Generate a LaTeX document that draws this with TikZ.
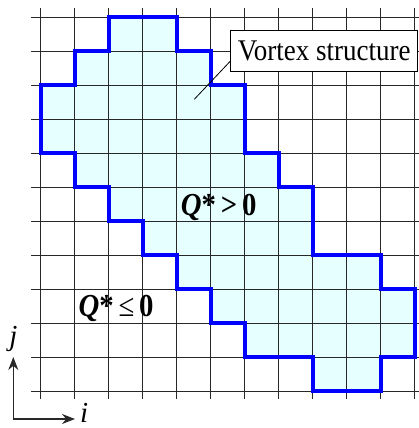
\documentclass[tikz,border=0pt]{standalone}
\usepackage{fontspec}
\setmainfont{Liberation Serif}
\usepackage{graphicx}
\usetikzlibrary{arrows.meta}
\definecolor{vfill}{RGB}{230,255,255}
\definecolor{vblue}{RGB}{0,0,255}
\definecolor{gridc}{RGB}{40,40,40}
\definecolor{axisc}{RGB}{40,40,40}
\tikzset{
  gridline/.style={draw=gridc, line width=1pt},
  boundary/.style={draw=vblue, line width=4pt, line join=miter},
  labelbox/.style={draw=black, fill=white, line width=0.8pt, minimum width=187pt, minimum height=41.7pt, inner sep=0pt, font=\fontsize{30}{34}\selectfont},
  leader/.style={draw=black, line width=0.8pt},
  qlabel/.style={inner sep=0pt, font=\fontsize{32}{35}\selectfont},
  axislabel/.style={inner sep=0pt, font=\fontsize{29}{32}\selectfont\itshape},
  axisarrow/.style={draw=axisc, line width=1.3pt, -{Stealth[length=13pt,width=10pt]}}
}
\newcommand{\sqz}[1]{\scalebox{0.9}[1]{#1}}
\begin{document}
\begin{tikzpicture}[x=1pt,y=-1pt]
\useasboundingbox (0,0) rectangle (419,428);
\begin{scope}[shift={(40.7,17.3)},x=34pt,y=-34pt]
  \fill[vfill] (2,0) -- (4,0) -- (4,1) -- (5,1) -- (5,2) -- (6,2) -- (6,4) -- (7,4) -- (7,5) -- (8,5) -- (8,7) -- (10,7) -- (10,8) -- (11,8) -- (11,10) -- (10,10) -- (10,11) -- (8,11) -- (8,10) -- (6,10) -- (6,9) -- (5,9) -- (5,8) -- (4,8) -- (4,7) -- (3,7) -- (3,6) -- (2,6) -- (2,5) -- (1,5) -- (1,4) -- (0,4) -- (0,2) -- (1,2) -- (1,1) -- (2,1) -- cycle;
  \foreach \k in {0,...,11} \draw[gridline] (\k,-0.27) -- (\k,11.23);
  \foreach \m in {0,...,11} \draw[gridline] (-0.285,\m) -- (11.5,\m);
  \draw[boundary] (2,0) -- (4,0) -- (4,1) -- (5,1) -- (5,2) -- (6,2) -- (6,4) -- (7,4) -- (7,5) -- (8,5) -- (8,7) -- (10,7) -- (10,8) -- (11,8) -- (11,10) -- (10,10) -- (10,11) -- (8,11) -- (8,10) -- (6,10) -- (6,9) -- (5,9) -- (5,8) -- (4,8) -- (4,7) -- (3,7) -- (3,6) -- (2,6) -- (2,5) -- (1,5) -- (1,4) -- (0,4) -- (0,2) -- (1,2) -- (1,1) -- (2,1) -- cycle;
\end{scope}
\node[labelbox] (vs) at (324.3,50.8) {\sqz{Vortex structure}};
\coordinate (vtip) at (194.3,99.3);
\draw[leader] ([yshift=11pt]vs.south west) -- (vtip);
\node[qlabel, anchor=base west] (qpos) at (180.7,215.7) {\sqz{\textbf{\textit{Q}*\,>\,0}}};
\node[qlabel, anchor=base west] (qneg) at (78.3,316) {\sqz{\textbf{\textit{Q}*}\,≤\,\textbf{0}}};
\coordinate (o) at (13.3,419);
\coordinate (ya) at (13.3,357);
\coordinate (xa) at (75,419);
\draw[axisarrow] (o) -- (ya);
\draw[axisarrow] (o) -- (xa);
\node[axislabel, anchor=base] (jl) at (13.5,345) {j};
\node[axislabel, anchor=base west] (il) at (80,422) {i};
\end{tikzpicture}
\end{document}
